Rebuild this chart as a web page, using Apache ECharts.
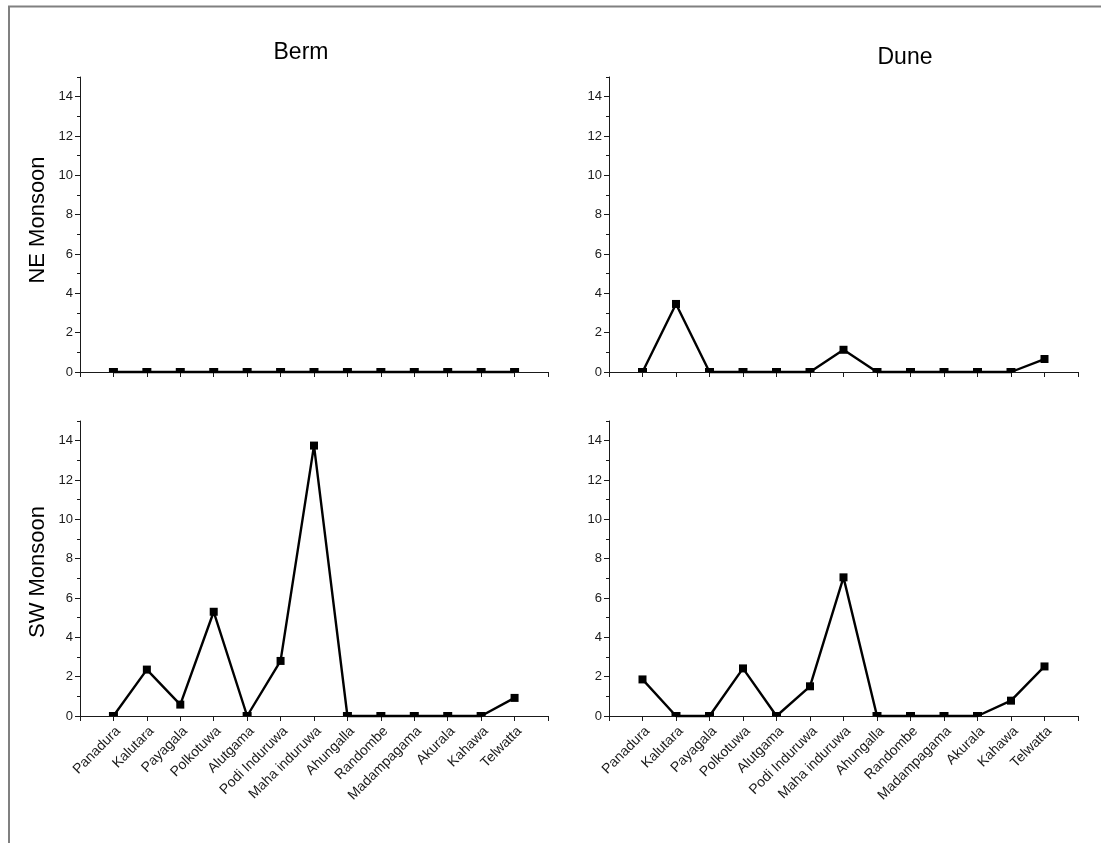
<!DOCTYPE html>
<html>
<head>
<meta charset="utf-8">
<script src="https://cdn.jsdelivr.net/npm/echarts@6.0.0/dist/echarts.min.js"></script>
<style>
  html, body { margin: 0; padding: 0; background: #ffffff; }
  #chart { width: 1101px; height: 843px; }
</style>
</head>
<body>
<div id="chart"></div>
<script>
// Sampling sites along the coast (x axis, positions 1..13)
const sites = ['Panadura', 'Kalutara', 'Payagala', 'Polkotuwa', 'Alutgama', 'Podi Induruwa',
  'Maha induruwa', 'Ahungalla', 'Randombe', 'Madampagama', 'Akurala', 'Kahawa', 'Telwatta'];

// Values per site for each season / zone
const bermNE = [0, 0, 0, 0, 0, 0, 0, 0, 0, 0, 0, 0, 0];
const duneNE = [0, 3.46, 0, 0, 0, 0, 1.13, 0, 0, 0, 0, 0, 0.66];
const bermSW = [0, 2.36, 0.58, 5.30, 0, 2.80, 13.75, 0, 0, 0, 0, 0, 0.92];
const duneSW = [1.86, 0, 0, 2.42, 0, 1.51, 7.05, 0, 0, 0, 0, 0.78, 2.52];

// Y axis tick values
const yMajorTicks = [0, 2, 4, 6, 8, 10, 12, 14];
const yMinorTicks = [1, 3, 5, 7, 9, 11, 13, 15];

const FONT = 'Arial, "Liberation Sans", sans-serif';
const INK = '#1a1a1a';

const grids = [
  { left: 80,  top: 77,  width: 468, height: 295 },
  { left: 609, top: 77,  width: 469, height: 295 },
  { left: 80,  top: 421, width: 468, height: 295 },
  { left: 609, top: 421, width: 469, height: 295 }
];

const panels = [bermNE, duneNE, bermSW, duneSW];

const xAxes = grids.map((g, i) => ({
  type: 'value',
  gridIndex: i,
  position: 'bottom',
  min: 0,
  max: 14,
  interval: 1,
  axisLine: { show: true, onZero: false, lineStyle: { color: INK, width: 1 } },
  axisTick: { show: true, inside: false, length: 5, lineStyle: { color: INK, width: 1 } },
  axisLabel: {
    show: i >= 2,
    rotate: 45,
    margin: 8,
    align: 'right',
    verticalAlign: 'top',
    color: INK,
    fontSize: 14,
    fontFamily: FONT,
    showMinLabel: true,
    showMaxLabel: true,
    formatter: v => sites[v - 1] || ''
  },
  splitLine: { show: false }
}));

const yAxes = [];
grids.forEach((g, i) => {
  // major ticks with labels
  yAxes.push({
    type: 'value',
    gridIndex: i,
    position: 'left',
    min: 0,
    max: 15,
    axisLine: { show: true, onZero: false, lineStyle: { color: INK, width: 1 } },
    axisTick: { show: true, length: 5, customValues: yMajorTicks, lineStyle: { color: INK, width: 1 } },
    axisLabel: { show: true, customValues: yMajorTicks, margin: 7, color: INK, fontSize: 13, fontFamily: FONT },
    splitLine: { show: false }
  });
  // minor ticks
  yAxes.push({
    type: 'value',
    gridIndex: i,
    position: 'left',
    offset: 0,
    min: 0,
    max: 15,
    axisLine: { show: false, onZero: false },
    axisTick: { show: true, length: 3, customValues: yMinorTicks, lineStyle: { color: INK, width: 1 } },
    axisLabel: { show: false },
    splitLine: { show: false }
  });
});

// Markers sitting on the baseline are cut by the plot edge, leaving the upper half
function toPoints(values) {
  return values.map((v, k) => v === 0
    ? { value: [k + 1, v], symbolSize: [9, 4], symbolOffset: [0, -2] }
    : { value: [k + 1, v] });
}

const series = panels.map((vals, i) => ({
  type: 'line',
  xAxisIndex: i,
  yAxisIndex: i * 2,
  data: toPoints(vals),
  symbol: 'rect',
  symbolSize: 8,
  showAllSymbol: true,
  lineStyle: { color: '#000', width: 2.4 },
  itemStyle: { color: '#000' },
  clip: false,
  silent: true,
  animation: false,
  z: 3
}));

const chart = echarts.init(document.getElementById('chart'), null, { renderer: 'canvas' });
chart.setOption({
  backgroundColor: '#ffffff',
  animation: false,
  textStyle: { fontFamily: FONT },
  grid: grids,
  xAxis: xAxes,
  yAxis: yAxes,
  series: series,
  graphic: [
    {
      type: 'rect',
      shape: { x: 9, y: 6.5, width: 1200, height: 900 },
      style: { fill: 'none', stroke: '#808080', lineWidth: 2 },
      silent: true
    },
    {
      type: 'text', x: 301, y: 53,
      style: { text: 'Berm', fontSize: 23, fontFamily: FONT, fill: '#000', textAlign: 'center', textVerticalAlign: 'middle' }
    },
    {
      type: 'text', x: 905, y: 58,
      style: { text: 'Dune', fontSize: 23, fontFamily: FONT, fill: '#000', textAlign: 'center', textVerticalAlign: 'middle' }
    },
    {
      type: 'text', x: 38, y: 220, rotation: Math.PI / 2,
      style: { text: 'NE Monsoon', fontSize: 22, fontFamily: FONT, fill: '#000', textAlign: 'center', textVerticalAlign: 'middle' }
    },
    {
      type: 'text', x: 38, y: 572, rotation: Math.PI / 2,
      style: { text: 'SW Monsoon', fontSize: 22, fontFamily: FONT, fill: '#000', textAlign: 'center', textVerticalAlign: 'middle' }
    }
  ]
});
</script>
</body>
</html>
